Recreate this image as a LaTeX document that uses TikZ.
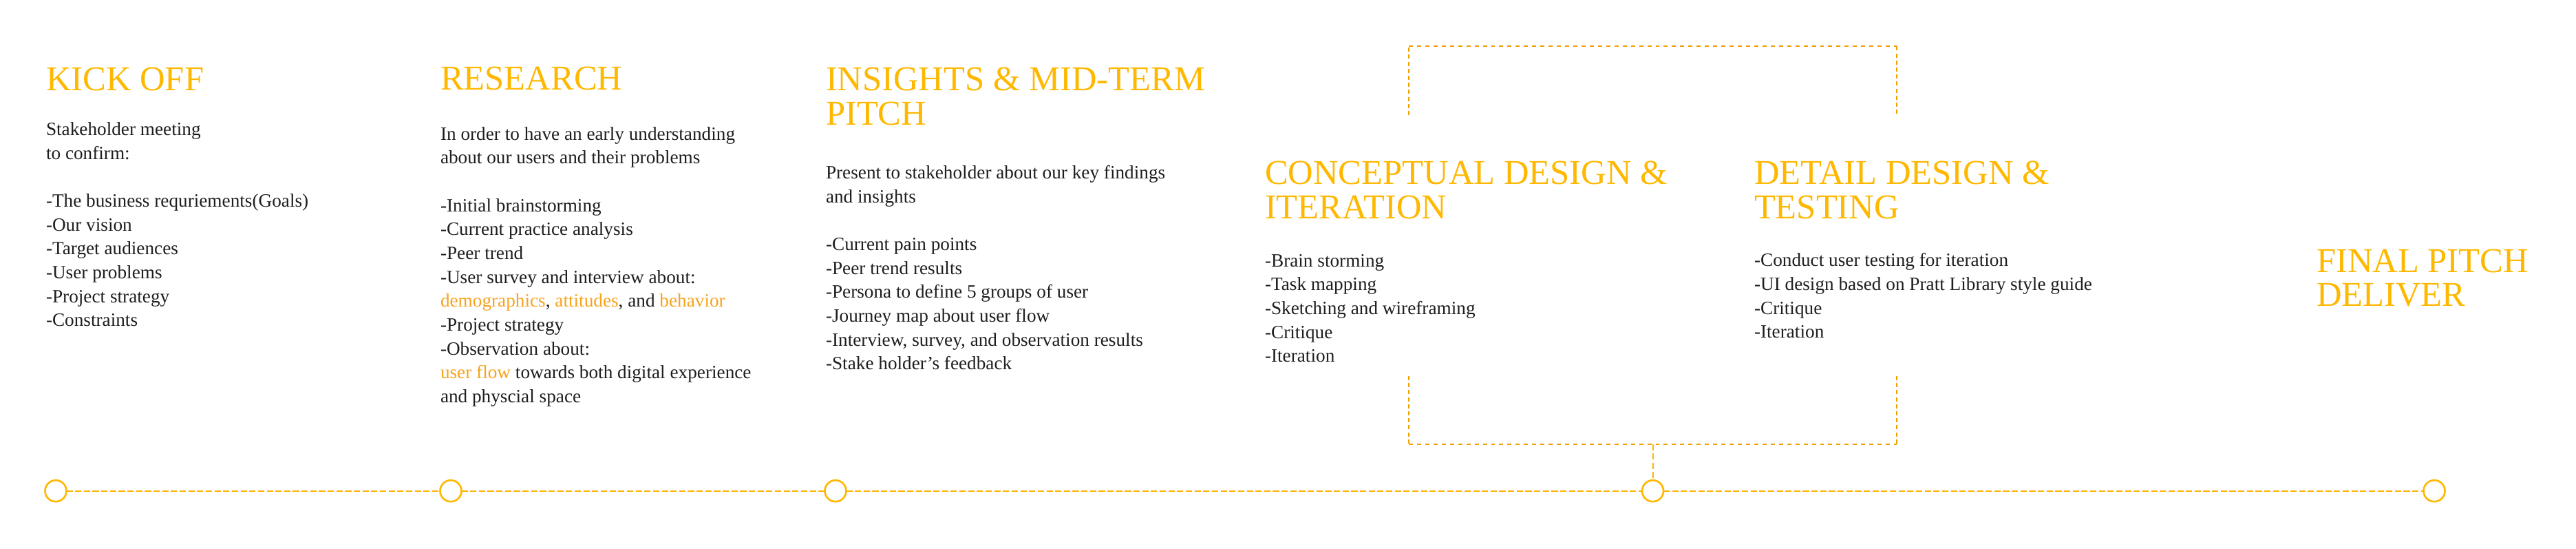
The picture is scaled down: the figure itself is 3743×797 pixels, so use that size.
\documentclass[tikz,border=0pt]{standalone}
\usepackage{fontspec}
\setmainfont{Liberation Serif}
\usetikzlibrary{positioning}
\definecolor{amber}{HTML}{FFB800}
\definecolor{hilite}{HTML}{F6A31C}
\definecolor{bracket}{HTML}{F0A000}
\definecolor{ink}{HTML}{1E1E1E}
\newcommand{\hl}[1]{\textcolor{hilite}{#1}}

\begin{document}
\begin{tikzpicture}[x=0.1mm, y=-0.1mm,
    every node/.style={inner sep=0pt, outer sep=0pt},
    phase/.style={anchor=base west, align=left, text=amber,
                  font=\fontsize{14.4pt}{14.2pt}\selectfont},
    notes/.style={align=left, text=ink,
                  font=\fontsize{7.75pt}{9.87pt}\selectfont},
    milestone/.style={circle, draw=amber, line width=0.75pt, fill=white,
                      minimum size=3.1mm},
    tline/.style={amber!90!orange, line width=0.5pt, dash pattern=on 2.6pt off 1pt},
    bdot/.style={bracket, line width=0.57pt, dash pattern=on 1.7pt off 1.7pt},
    bdash/.style={bracket, line width=0.57pt, dash pattern=on 1.7pt off 1.2pt},
    link/.style={amber, line width=0.57pt, dash pattern=on 2.6pt off 1.2pt}
]
    \useasboundingbox (0,0) rectangle (3743,797);

    % phase titles (base = last line)
    \node[phase] (kickH) at (67,132) {KICK OFF};
    \node[phase] (researchH) at (640,131) {RESEARCH};
    \node[phase] (insightH) at (1200,181.7) {INSIGHTS \& MID-TERM\\PITCH};
    \node[phase] (conceptH) at (1838,317.5) {CONCEPTUAL DESIGN \&\\ITERATION};
    \node[phase] (detailH) at (2549,317.5) {DETAIL DESIGN \&\\TESTING};
    \node[phase] (finalH) at (3366,445) {FINAL PITCH\\DELIVER};

    % phase notes
    \node[notes, below=34.2mm of kickH.base west, anchor=base west] (kickN)
        {Stakeholder meeting\\to confirm:\\[9.87pt]
         -The business requriements(Goals)\\-Our vision\\-Target audiences\\
         -User problems\\-Project strategy\\-Constraints};
    \node[notes, below=45.36mm of researchH.base west, anchor=base west] (researchN)
        {In order to have an early understanding\\about our users and their problems\\[9.87pt]
         -Initial brainstorming\\-Current practice analysis\\-Peer trend\\
         -User survey and interview about:\\
         \hl{demographics}, \hl{attitudes}, and \hl{behavior}\\
         -Project strategy\\-Observation about:\\
         \hl{user flow} towards both digital experience\\and physcial space};
    \node[notes, below=35.53mm of insightH.base west, anchor=base west] (insightN)
        {Present to stakeholder about our key findings\\and insights\\[9.87pt]
         -Current pain points\\-Peer trend results\\-Persona to define 5 groups of user\\
         -Journey map about user flow\\-Interview, survey, and observation results\\
         -Stake holder’s feedback};
    \node[notes, below=20.85mm of conceptH.base west, anchor=base west] (conceptN)
        {-Brain storming\\-Task mapping\\-Sketching and wireframing\\-Critique\\-Iteration};
    \node[notes, below=17.35mm of detailH.base west, anchor=base west] (detailN)
        {-Conduct user testing for iteration\\-UI design based on Pratt Library style guide\\
         -Critique\\-Iteration};

    % iteration loop
    \coordinate (loopTL) at (2047,67.5);
    \coordinate (loopTR) at (2756,67.5);
    \coordinate (loopL1) at (2047,167);
    \coordinate (loopR1) at (2756,167);
    \coordinate (loopL2) at (2047,546);
    \coordinate (loopR2) at (2756,546);
    \coordinate (loopBL) at (2047,645);
    \coordinate (loopBR) at (2756,645);
    \coordinate (loopBM) at (2401.5,645);
    \draw[bdash] (loopL1) -- (loopTL);
    \draw[bdot] (loopTL) -- (loopTR);
    \draw[bdash] (loopTR) -- (loopR1);
    \draw[bdash] (loopL2) -- (loopBL);
    \draw[bdash] (loopR2) -- (loopBR);
    \draw[bdot] (loopBL) -- (loopBR);

    % timeline
    \node[milestone] (ckick) at (81,712.7) {};
    \node[milestone] (cresearch) at (655,712.7) {};
    \node[milestone] (cinsight) at (1214,712.7) {};
    \node[milestone] (cdesign) at (2401.5,712.7) {};
    \node[milestone] (cfinal) at (3537,712.7) {};
    \draw[tline] (ckick) -- (cresearch);
    \draw[tline] (cresearch) -- (cinsight);
    \draw[tline] (cinsight) -- (cdesign);
    \draw[tline] (cdesign) -- (cfinal);
    \draw[link] (loopBM) -- (cdesign);
\end{tikzpicture}
\end{document}
